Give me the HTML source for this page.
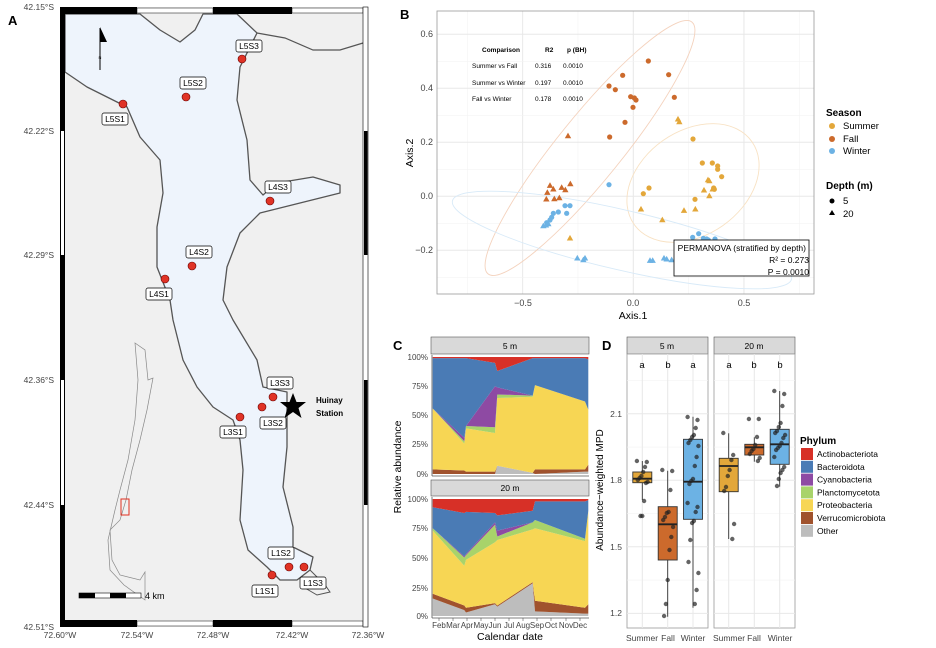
<!DOCTYPE html>
<html><head><meta charset="utf-8"><style>
html,body{margin:0;padding:0;background:#fff}
svg{display:block;font-family:"Liberation Sans",sans-serif}
</style></head><body>
<svg id="s" width="936" height="648" viewBox="0 0 936 648" xmlns="http://www.w3.org/2000/svg">
<rect x="60" y="7" width="308" height="620" fill="#f0f0f0"/>
<polygon fill="#eef4fc" stroke="#555" stroke-width="1.3" stroke-linejoin="round" points="65,14 140,14 160,30 180,42 195,30 203,14 237,14 257,33 240,67 237,100 247,140 250,180 263,195 277,183 313,177 340,185 340,193 300,203 260,213 240,233 227,267 223,300 233,320 257,360 263,387 287,392 287,447 283,487 293,527 293,547 313,557 310,570 297,580 280,580 267,567 248,550 240,520 243,470 240,440 233,420 213,407 197,387 183,360 173,320 170,300 157,267 157,227 163,193 160,160 140,137 127,107 87,87 65,72"/>
<polyline fill="none" stroke="#555" stroke-width="1.2" points="257,33 285,38 313,50 340,50 363,43"/>
<polyline fill="none" stroke="#555" stroke-width="1" points="310,570 325,585 330,592 317,595 305,588"/>
<polygon fill="none" stroke="#888" stroke-width="0.7" points="135,343 145,350 148,380 153,378 147,410 140,440 132,470 126,500 120,520 110,530 112,560 120,575 140,580 145,572 145,600 138,595 124,585 110,570 108,540 115,510 120,490 128,460 135,420 138,380"/>
<rect x="121" y="499" width="8" height="16" fill="none" stroke="#e03020" stroke-width="1"/>
<g stroke="none">
<rect x="60" y="7" width="5" height="620" fill="#000"/>
<rect x="61" y="131" width="3" height="124" fill="#fff"/><rect x="61" y="380" width="3" height="125" fill="#fff"/>
<rect x="60" y="7" width="77" height="7" fill="#000"/><rect x="137" y="8" width="76" height="5" fill="#fff" stroke="#000" stroke-width="0.5"/>
<rect x="213" y="7" width="79" height="7" fill="#000"/><rect x="292" y="8" width="71" height="5" fill="#fff" stroke="#000" stroke-width="0.5"/>
<rect x="60" y="620" width="77" height="7" fill="#000"/><rect x="137" y="621" width="76" height="5" fill="#fff" stroke="#000" stroke-width="0.5"/>
<rect x="213" y="620" width="79" height="7" fill="#000"/><rect x="292" y="621" width="71" height="5" fill="#fff" stroke="#000" stroke-width="0.5"/>
<rect x="363" y="7" width="5" height="620" fill="#fff" stroke="#000" stroke-width="0.6"/>
<rect x="364" y="131" width="3.5" height="124" fill="#000"/><rect x="364" y="380" width="3.5" height="125" fill="#000"/>
</g>
<line x1="100" y1="28" x2="100" y2="70" stroke="#000" stroke-width="1"/>
<polygon points="100,27 100,42 107,42" fill="#000"/>
<text x="100" y="59" font-size="4" text-anchor="middle">N</text>
<rect x="79" y="593" width="62" height="5" fill="#fff" stroke="#000" stroke-width="0.6"/>
<rect x="79" y="593" width="16" height="5" fill="#000"/><rect x="110" y="593" width="16" height="5" fill="#000"/>
<text x="145" y="599" font-size="9">4 km</text>
<polygon fill="#000" points="293,393 296.5,402 306,402 298.5,408 301.5,418 293,412 284.5,418 287.5,408 280,402 289.5,402"/>
<text x="316" y="403" font-size="8" font-weight="bold">Huinay</text>
<text x="316" y="416" font-size="8" font-weight="bold">Station</text>
<g id="stations"></g>
<g font-size="8.5" fill="#444" text-anchor="end">
<text x="54" y="10">42.15°S</text><text x="54" y="134">42.22°S</text><text x="54" y="258">42.29°S</text><text x="54" y="383">42.36°S</text><text x="54" y="508">42.44°S</text><text x="54" y="630">42.51°S</text>
</g>
<g font-size="8.5" fill="#444" text-anchor="middle">
<text x="60" y="638">72.60°W</text><text x="137" y="638">72.54°W</text><text x="213" y="638">72.48°W</text><text x="292" y="638">72.42°W</text><text x="368" y="638">72.36°W</text>
</g>
<text x="8" y="25" font-size="13" font-weight="bold">A</text>

<text x="400" y="19" font-size="13" font-weight="bold">B</text>
<g id="bgrid"></g>
<g id="bpts"></g>
<rect x="437" y="11" width="377" height="283" fill="none" stroke="#999" stroke-width="0.8"/>
<g font-size="6.5">
<text x="482" y="52" font-weight="bold">Comparison</text><text x="545" y="52" font-weight="bold">R2</text><text x="567" y="52" font-weight="bold">p (BH)</text>
<text x="472" y="68">Summer vs Fall</text><text x="535" y="68">0.316</text><text x="563" y="68">0.0010</text>
<text x="472" y="85">Summer vs Winter</text><text x="535" y="85">0.197</text><text x="563" y="85">0.0010</text>
<text x="472" y="101">Fall vs Winter</text><text x="535" y="101">0.178</text><text x="563" y="101">0.0010</text>
</g>
<rect x="674" y="240" width="135" height="36" fill="#fff" stroke="#000" stroke-width="0.8"/>
<g font-size="8.5" text-anchor="end"><text x="806" y="251">PERMANOVA (stratified by depth)</text><text x="809" y="263">R² = 0.273</text><text x="809" y="275">P = 0.0010</text></g>
<g font-size="9" fill="#444" text-anchor="end">
<text x="433" y="37">0.6</text><text x="433" y="91">0.4</text><text x="433" y="145">0.2</text><text x="433" y="199">0.0</text><text x="433" y="253">−0.2</text>
</g>
<g font-size="9" fill="#444" text-anchor="middle"><text x="523" y="306">−0.5</text><text x="633" y="306">0.0</text><text x="744" y="306">0.5</text></g>
<text x="633" y="319" font-size="10.5" text-anchor="middle">Axis.1</text>
<text transform="translate(413,153) rotate(-90)" font-size="10.5" text-anchor="middle">Axis.2</text>
<g font-size="9.5">
<text x="826" y="116" font-weight="bold" font-size="10">Season</text>
<circle cx="832" cy="126" r="3" fill="#e3a73a"/><text x="843" y="129">Summer</text>
<circle cx="832" cy="139" r="3" fill="#cc6a2c"/><text x="843" y="142">Fall</text>
<circle cx="832" cy="151" r="3" fill="#6cb2e4"/><text x="843" y="154">Winter</text>
<text x="826" y="189" font-weight="bold" font-size="10">Depth (m)</text>
<circle cx="832" cy="201" r="2.5" fill="#000"/><text x="843" y="204">5</text>
<polygon points="832,210 835,215 829,215" fill="#000"/><text x="843" y="217">20</text>
</g>

<text x="393" y="350" font-size="13" font-weight="bold">C</text>
<rect x="431" y="337" width="158" height="17" fill="#d9d9d9" stroke="#555" stroke-width="0.6"/>
<text x="510" y="349" font-size="8.5" text-anchor="middle">5 m</text>
<rect x="431" y="480" width="158" height="16" fill="#d9d9d9" stroke="#555" stroke-width="0.6"/>
<text x="510" y="491" font-size="8.5" text-anchor="middle">20 m</text>
<g id="careas"></g>
<g font-size="8" fill="#444" text-anchor="end">
<text x="428" y="360">100%</text><text x="428" y="389">75%</text><text x="428" y="418">50%</text><text x="428" y="447">25%</text><text x="428" y="477">0%</text>
<text x="428" y="502">100%</text><text x="428" y="531">75%</text><text x="428" y="561">50%</text><text x="428" y="591">25%</text><text x="428" y="619">0%</text>
</g>
<g font-size="8" fill="#444" text-anchor="middle" id="months"></g>
<text x="510" y="640" font-size="10.5" text-anchor="middle">Calendar date</text>
<text transform="translate(401,467) rotate(-90)" font-size="10.5" text-anchor="middle">Relative abundance</text>

<text x="602" y="350" font-size="13" font-weight="bold">D</text>
<rect x="627" y="337" width="81" height="17" fill="#d9d9d9" stroke="#555" stroke-width="0.6"/>
<text x="667" y="349" font-size="8.5" text-anchor="middle">5 m</text>
<rect x="714" y="337" width="81" height="17" fill="#d9d9d9" stroke="#555" stroke-width="0.6"/>
<text x="754" y="349" font-size="8.5" text-anchor="middle">20 m</text>
<g id="dplot"></g>
<g font-size="8.5" fill="#444" text-anchor="end"><text x="622" y="417">2.1</text><text x="622" y="483">1.8</text><text x="622" y="550">1.5</text><text x="622" y="616">1.2</text></g>
<text transform="translate(603,490) rotate(-90)" font-size="10" text-anchor="middle">Abundance−weighted MPD</text>
<g font-size="8.5" fill="#444" text-anchor="middle">
<text x="642" y="641">Summer</text><text x="668" y="641">Fall</text><text x="693" y="641">Winter</text>
<text x="729" y="641">Summer</text><text x="754" y="641">Fall</text><text x="780" y="641">Winter</text>
</g>
<g font-size="9.5" text-anchor="middle"><text x="642" y="368">a</text><text x="668" y="368">b</text><text x="693" y="368">a</text><text x="729" y="368">a</text><text x="754" y="368">b</text><text x="780" y="368">b</text></g>
<g font-size="8.5" id="leg"><text x="800" y="444" font-weight="bold" font-size="10">Phylum</text></g>
</svg>
<script>
var NS="http://www.w3.org/2000/svg";
function add(g,tag,a,txt){var e=document.createElementNS(NS,tag);for(var k in a)e.setAttribute(k,a[k]);if(txt)e.textContent=txt;document.getElementById(g).appendChild(e);return e;}
[["L5S3",242,59,249,46],["L5S2",186,97,193,83],["L5S1",123,104,115,119],["L4S3",270,201,278,187],["L4S2",192,266,199,252],["L4S1",165,279,159,294],["L3S3",273,397,280,383],["L3S2",262,407,273,423],["L3S1",240,417,233,432],["L1S2",289,567,281,553],["L1S1",272,575,265,591],["L1S3",304,567,313,583]].forEach(function(s){
 add("stations","rect",{x:s[3]-13,y:s[4]-6,width:26,height:12,rx:2,fill:"#fff",stroke:"#000","stroke-width":0.7});
 add("stations","text",{x:s[3],y:s[4]+3,"font-size":8.5,"text-anchor":"middle"},s[0]);
 add("stations","circle",{cx:s[1],cy:s[2],r:4,fill:"#e03326",stroke:"#600","stroke-width":0.6});
});
var X=function(v){return 633.3+v*221.3},Y=function(v){return 196.3-v*270};
add("bgrid","rect",{x:437,y:11,width:377,height:283,fill:"#fff"});
[-0.75,-0.25,0.25,0.75].forEach(function(v){add("bgrid","line",{x1:X(v),x2:X(v),y1:11,y2:294,stroke:"#f3f3f3","stroke-width":0.6})});
[-0.5,0,0.5].forEach(function(v){add("bgrid","line",{x1:X(v),x2:X(v),y1:11,y2:294,stroke:"#e8e8e8","stroke-width":1})});
[0.5,0.3,0.1,-0.1,-0.3].forEach(function(v){add("bgrid","line",{y1:Y(v),y2:Y(v),x1:437,x2:814,stroke:"#f3f3f3","stroke-width":0.6})});
[0.6,0.4,0.2,0,-0.2].forEach(function(v){add("bgrid","line",{y1:Y(v),y2:Y(v),x1:437,x2:814,stroke:"#e8e8e8","stroke-width":1})});
add("bgrid","ellipse",{cx:590,cy:148,rx:162,ry:32,transform:"rotate(-51 590 148)",fill:"none",stroke:"#f4d2bd","stroke-width":0.9});
add("bgrid","ellipse",{cx:693,cy:183,rx:72,ry:52,transform:"rotate(-35 693 183)",fill:"none",stroke:"#f8e2c4","stroke-width":0.9});
add("bgrid","ellipse",{cx:622,cy:240,rx:174,ry:30,transform:"rotate(13 622 240)",fill:"none",stroke:"#d8eaf8","stroke-width":0.9});
function pts(col,c,t){c.forEach(function(p){add("bpts","circle",{cx:390+p[0]/3,cy:p[1]/3,r:2.6,fill:col})});
 t.forEach(function(p){var x=390+p[0]/3,y=p[1]/3;add("bpts","polygon",{points:(x)+","+(y-3.4)+" "+(x+3.2)+","+(y+2.2)+" "+(x-3.2)+","+(y+2.2),fill:col})});}
pts("#cc6a2c",[[775,183],[698,226],[836,224],[657,258],[676,269],[722,290],[733,294],[738,300],[853,292],[729,322],[705,367],[659,411]],[[534,408],[480,557],[472,578],[490,568],[515,563],[526,570],[541,552],[469,598],[493,597],[508,594]]);
pts("#e3a73a",[[909,417],[937,489],[967,489],[983,498],[983,508],[995,530],[777,564],[760,581],[915,598],[971,564],[973,568]],[[864,358],[868,366],[954,540],[958,543],[942,571],[968,568],[958,588],[753,628],[817,660],[882,632],[916,628],[540,715]]);
pts("#6cb2e4",[[657,554],[525,617],[540,617],[530,640],[490,640],[505,636],[480,660],[470,668],[485,652],[908,712],[926,701],[940,715],[950,717],[975,717],[955,720]],[[460,678],[475,672],[562,775],[585,775],[580,780],[780,782],[788,782],[822,775],[830,778],[845,780],[468,676]]);
var cols=["#bdbdbd","#a0522d","#f7d654","#a8d36a","#8e4aa3","#4a7bb5","#d73027"];
var xs=[432.7,464.3,466,495,497.3,532.7,535,585,588.3];
var d5=[[0,.04,.56,.56,.56,.99],[0,.03,.26,.28,.31,.99],[0,.02,.39,.41,.41,.99],[0,.02,.35,.40,.75,.95],[.07,.07,.65,.68,.74,.88],[.01,.01,.66,.67,.67,.99],[0,.04,.76,.76,.76,.99],[.02,.04,.62,.62,.62,.99],[.02,.08,.55,.55,.55,.98]];
var d20=[[.15,.19,.73,.75,.75,.93],[.05,.09,.43,.50,.51,.88],[.03,.07,.48,.52,.53,.89],[.10,.11,.63,.78,.80,.88],[.08,.09,.65,.68,.73,.86],[.28,.29,.74,.80,.80,.90],[.04,.13,.75,.82,.82,.98],[.02,.07,.64,.66,.66,.98],[.02,.10,.90,.90,.90,.99]];
function area(d,y0,y1){add("careas","rect",{x:432,y:y1,width:157,height:y0-y1,fill:"#fff"});
 for(var L=0;L<7;L++){var top=[],bot=[];for(var i=0;i<xs.length;i++){var lo=L==0?0:d[i][L-1],hi=L==6?1:d[i][L];top.push(xs[i]+","+(y0-(y0-y1)*hi));bot.unshift(xs[i]+","+(y0-(y0-y1)*lo));}
 add("careas","polygon",{points:top.concat(bot).join(" "),fill:cols[L]});}}
area(d5,474,357);area(d20,616,499);
add("careas","line",{x1:432,x2:432,y1:355,y2:476,stroke:"#555","stroke-width":0.8});add("careas","line",{x1:432,x2:589,y1:476,y2:476,stroke:"#555","stroke-width":0.8});
add("careas","line",{x1:432,x2:432,y1:497,y2:618,stroke:"#555","stroke-width":0.8});add("careas","line",{x1:432,x2:589,y1:618,y2:618,stroke:"#555","stroke-width":0.8});
["Feb","Mar","Apr","May","Jun","Jul","Aug","Sep","Oct","Nov","Dec"].forEach(function(m,i){var x=[439,453,467,481,495,509,523,537,551,566,580][i];add("months","text",{x:x,y:628},m);add("careas","line",{x1:x,x2:x,y1:618,y2:621,stroke:"#555","stroke-width":0.6});});
var Dy=function(v){return 480.3-(v-1.8)*221.7};
[[627,708],[714,795]].forEach(function(r){add("dplot","rect",{x:r[0],y:354,width:r[1]-r[0],height:274,fill:"#fff",stroke:"#999","stroke-width":0.8});
 [1.35,1.65,1.95,2.25].forEach(function(v){add("dplot","line",{x1:r[0],x2:r[1],y1:Dy(v),y2:Dy(v),stroke:"#f3f3f3","stroke-width":0.6})});
 [1.2,1.5,1.8,2.1].forEach(function(v){add("dplot","line",{x1:r[0],x2:r[1],y1:Dy(v),y2:Dy(v),stroke:"#e8e8e8","stroke-width":1})});});
[642.3,667.7,693,728.7,754.3,779.7].forEach(function(x){add("dplot","line",{x1:x,x2:x,y1:354,y2:628,stroke:"#e8e8e8","stroke-width":1})});
var boxes=[[642.3,472,478.7,482.7,461,500,"#e3a73a"],[667.7,506.7,524.3,560,470.7,616.7,"#cc6a2c"],[693,439.3,481.7,519.3,416.7,607.7,"#6cb2e4"],[728.7,458.3,466,491.7,433.3,539,"#e3a73a"],[754.3,444.3,447.3,455,437.3,461.7,"#cc6a2c"],[779.7,429.3,444.3,464.3,391,486.7,"#6cb2e4"]];
var jit=[[461,462,467,472,476,478,480,482,483,501,516,516],[470,471,490,512,513,517,520,527,537,550,580,604,616],[417,420,428,435,437,440,443,446,457,466,479,481,484,503,507,512,521,523,540,562,573,590,604],[433,455,460,470,476,487,491,524,539],[419,419,437,445,449,451,454,458,461],[391,394,406,423,427,431,433,435,438,443,446,448,450,457,467,470,473,479,486]];
boxes.forEach(function(b,i){
 add("dplot","line",{x1:b[0],x2:b[0],y1:b[4],y2:b[5],stroke:"#333","stroke-width":0.9});
 add("dplot","rect",{x:b[0]-9.5,y:b[1],width:19,height:b[3]-b[1],fill:b[6],stroke:"#333","stroke-width":0.9});
 add("dplot","line",{x1:b[0]-9.5,x2:b[0]+9.5,y1:b[2],y2:b[2],stroke:"#222","stroke-width":1.8});
 jit[i].forEach(function(y,j){var dx=((j*37)%13-6)*0.9;add("dplot","circle",{cx:b[0]+dx,cy:y,r:2.2,fill:"#222","fill-opacity":0.7});});
});
var names=["Actinobacteriota","Bacteroidota","Cyanobacteria","Planctomycetota","Proteobacteria","Verrucomicrobiota","Other"];
var lc=["#d73027","#4a7bb5","#8e4aa3","#a8d36a","#f7d654","#a0522d","#bdbdbd"];
names.forEach(function(n,i){var y=454+i*12.8;add("leg","rect",{x:801,y:y-6,width:12,height:12,fill:lc[i]});add("leg","text",{x:817,y:y+3},n);});
</script>
</body></html>
